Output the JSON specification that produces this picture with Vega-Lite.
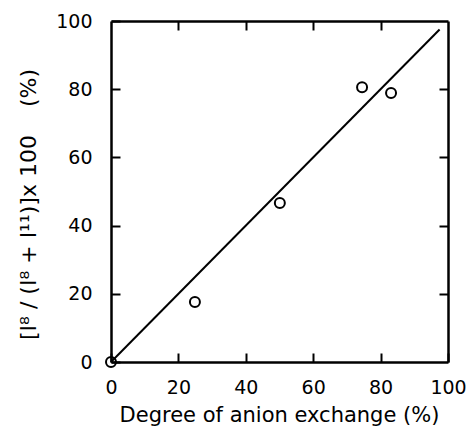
{
  "$schema": "https://vega.github.io/schema/vega-lite/v6.json",
  "width": 337,
  "height": 341,
  "autosize": {"type": "none"},
  "padding": {"left": 111, "top": 21, "right": 21, "bottom": 75},
  "data": {"values": [
    {"x": 0, "y": 0},
    {"x": 24.9, "y": 17.6},
    {"x": 50.1, "y": 46.6},
    {"x": 74.5, "y": 80.6},
    {"x": 83.1, "y": 78.9}
  ]},
  "config": {
    "view": {"stroke": null},
    "axis": {
      "grid": false,
      "domainColor": "black",
      "domainWidth": 2.5,
      "tickColor": "black",
      "tickWidth": 2,
      "labelColor": "black",
      "titleColor": "black",
      "labelFont": "DejaVu Sans",
      "titleFont": "DejaVu Sans",
      "labelFontSize": 19,
      "titleFontSize": 20,
      "titleFontWeight": "normal",
      "labelFlush": false
    }
  },
  "layer": [
    {
      "data": {"values": [{"lx": 0, "ly": 0}, {"lx": 97.5, "ly": 97.5}]},
      "mark": {"type": "line", "color": "black", "strokeWidth": 2},
      "encoding": {
        "x": {"field": "lx", "type": "quantitative", "scale": {"domain": [0, 100], "nice": false},
              "axis": {"orient": "top", "labels": false, "title": null, "tickSize": -9, "values": [20, 40, 60, 80]}},
        "y": {"field": "ly", "type": "quantitative", "scale": {"domain": [0, 100], "nice": false},
              "axis": {"orient": "right", "labels": false, "title": null, "tickSize": -9, "values": [20, 40, 60, 80]}}
      }
    },
    {
      "mark": {"type": "point", "shape": "circle", "color": "black", "strokeWidth": 2, "size": 100, "filled": false, "opacity": 1},
      "encoding": {
        "x": {"field": "x", "type": "quantitative", "scale": {"domain": [0, 100], "nice": false},
              "axis": {"orient": "bottom", "title": "Degree of anion exchange (%)", "titleFontSize": 21, "values": [0, 20, 40, 60, 80, 100],
                       "tickSize": -9, "labelPadding": 25, "titleX": 168, "titleY": 53, "titleBaseline": "middle", "titleAlign": "center"}},
        "y": {"field": "y", "type": "quantitative", "scale": {"domain": [0, 100], "nice": false},
              "axis": {"orient": "left", "title": "[I⁸ / (I⁸ + I¹¹)]x 100\u00a0\u00a0\u00a0\u00a0(%)", "titleFontSize": 22, "values": [0, 20, 40, 60, 80, 100],
                       "tickSize": -9, "labelPadding": 28, "titleX": -83, "titleY": 183, "titleAngle": -90, "titleBaseline": "middle", "titleAlign": "center"}}
      }
    }
  ],
  "resolve": {"axis": {"x": "independent", "y": "independent"}}
}
